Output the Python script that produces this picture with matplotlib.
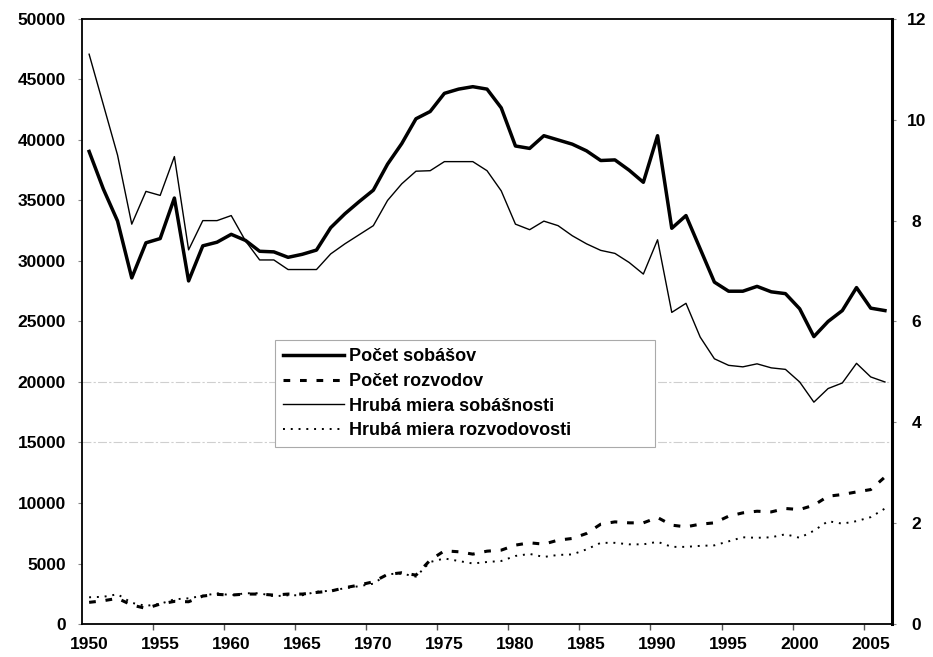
import matplotlib.pyplot as plt
import numpy as np

years = np.arange(1950, 2007)

# Počet sobášov (left axis)
marriages = [39050, 35950, 33300, 28600, 31500, 31850, 35200, 28350, 31250, 31550,
             32200, 31700, 30800, 30750, 30300, 30550, 30900, 32750, 33900, 34900,
             35850, 38000, 39700, 41750, 42350, 43850, 44200, 44400, 44200, 42650,
             39500, 39300, 40350, 40000, 39650, 39100, 38300, 38350, 37500, 36500,
             40350, 32700, 33750, 31000, 28250, 27500, 27500, 27900, 27450, 27300,
             26050, 23750, 25000, 25900, 27800, 26100, 25900]

# Počet rozvodov (left axis)
divorces = [1790, 1925, 2120, 1570, 1290, 1650, 1870, 1840, 2310, 2450,
            2390, 2475, 2475, 2390, 2475, 2475, 2610, 2720, 3000, 3220,
            3490, 4100, 4235, 4040, 5280, 6050, 5970, 5775, 6020, 6105,
            6520, 6710, 6600, 6930, 7070, 7480, 8250, 8440, 8360, 8360,
            8800, 8170, 8030, 8250, 8360, 8910, 9185, 9320, 9265, 9545,
            9460, 9820, 10560, 10700, 10915, 11110, 12150]

# Hrubá miera sobášnosti (right axis)
marriage_rate = [11.3, 10.3, 9.3, 7.93, 8.58, 8.5, 9.27, 7.42, 8.0, 8.0,
                 8.1, 7.6, 7.22, 7.22, 7.03, 7.03, 7.03, 7.34, 7.54, 7.72,
                 7.9, 8.4, 8.73, 8.98, 8.99, 9.17, 9.17, 9.17, 8.99, 8.59,
                 7.93, 7.82, 7.99, 7.9, 7.7, 7.54, 7.41, 7.35, 7.17, 6.94,
                 7.62, 6.18, 6.36, 5.69, 5.26, 5.13, 5.1, 5.16, 5.08, 5.05,
                 4.8, 4.4, 4.67, 4.78, 5.17, 4.9, 4.8]

# Hrubá miera rozvodovosti (right axis)
divorce_rate = [0.53, 0.54, 0.59, 0.42, 0.36, 0.40, 0.49, 0.51, 0.56, 0.61,
                0.57, 0.61, 0.61, 0.55, 0.57, 0.57, 0.64, 0.66, 0.71, 0.75,
                0.80, 0.99, 1.00, 0.94, 1.23, 1.30, 1.25, 1.20, 1.23, 1.25,
                1.35, 1.39, 1.33, 1.37, 1.38, 1.48, 1.61, 1.61, 1.58, 1.58,
                1.63, 1.53, 1.53, 1.55, 1.56, 1.64, 1.72, 1.71, 1.72, 1.78,
                1.71, 1.85, 2.04, 1.99, 2.04, 2.12, 2.29]

labels = ['Počet sobášov', 'Počet rozvodov',
          'Hrubá miera sobášnosti', 'Hrubá miera rozvodovosti']

plt.rcParams['font.family'] = ['Liberation Sans', 'DejaVu Sans']
plt.rcParams['font.weight'] = 'bold'

fig = plt.figure(figsize=(9.33, 6.57), dpi=100)
ax = fig.add_axes([0.0879, 0.0502, 0.8682, 0.921])
ax2 = ax.twinx()

# faint scan-like lines
for lev in [15000, 20000]:
    ax.axhline(lev, color='#cfcfcf', lw=0.8, ls=(0, (8, 2, 2, 2)), zorder=0)

l1, = ax.plot(years, marriages, color='black', lw=2.5, solid_joinstyle='round')
l2, = ax.plot(years, divorces, color='black', lw=2.2, dashes=(2.2, 3.2))
l3, = ax2.plot(years, marriage_rate, color='black', lw=1.0)
l4, = ax2.plot(years, divorce_rate, color='black', lw=1.4, dashes=(1, 3))

ax.set_xlim(1949.5, 2006.5)
ax.set_ylim(0, 50000)
ax2.set_ylim(0, 12)

ax.set_yticks(np.arange(0, 50001, 5000))
ax2.set_yticks(np.arange(0, 13, 2))
ax.set_xticks(np.arange(1950, 2006, 5))
ax.set_xticks(np.arange(1954.5, 2005, 5), minor=True)

ax.tick_params(axis='x', which='major', length=0, pad=9, labelsize=12.5)
ax.tick_params(axis='x', which='minor', length=4, width=1, color='#555555')
ax.tick_params(axis='y', length=3, width=0.8, color='#888888', pad=8.5, labelsize=12.5)
ax2.tick_params(axis='y', length=3, width=0.8, color='#888888', pad=14.5, labelsize=12.5)
for lab in ax2.get_yticklabels():
    lab.set_ha('center')

for s in ['left', 'top', 'bottom']:
    ax.spines[s].set_linewidth(1.3)
    ax2.spines[s].set_visible(False)
ax.spines['right'].set_visible(False)
ax2.spines['right'].set_linewidth(2.2)

leg = ax2.legend([l1, l2, l3, l4], labels, loc='upper left',
                 bbox_to_anchor=(0.238, 0.295, 0.469, 0.174), mode='expand',
                 fancybox=False, edgecolor='#aaaaaa', framealpha=1,
                 borderaxespad=0, handlelength=3.4,
                 handletextpad=0.25, labelspacing=0.42, borderpad=0.45,
                 prop={'weight': 'bold', 'size': 13})
leg.get_frame().set_linewidth(0.8)

fig.savefig('out.png', dpi=100)
